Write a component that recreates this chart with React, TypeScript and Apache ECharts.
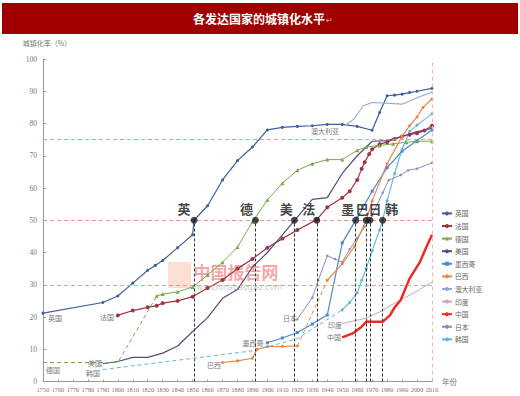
import React, { useEffect, useRef } from "react";
import * as echarts from "echarts";

type Pt = [number, number];

const titleText = "各发达国家的城镇化水平";
const yAxisName = "城镇化率（%）";
const xAxisName = "年份";
const xMin = 1750;
const xMax = 2010;
const xStep = 10;
const yMin = 0;
const yMax = 100;
const yStep = 10;

// Series values [year, urbanisation %]
const uk: Pt[] = [[1750, 21.2], [1790, 24.5], [1800, 26.5], [1810, 30.5], [1820, 34.5], [1825, 36], [1830, 37.5], [1840, 41.5], [1850, 45.5], [1851, 50], [1860, 54.5], [1870, 62.5], [1880, 68.5], [1890, 72.7], [1900, 78], [1910, 78.8], [1920, 79.1], [1930, 79.3], [1940, 79.7], [1950, 79.7], [1960, 79.1], [1970, 77.9], [1975, 83.4], [1980, 88.6], [1985, 88.8], [1990, 89.1], [1995, 89.6], [2000, 90], [2010, 90.9]];
const france: Pt[] = [[1800, 20.5], [1810, 22], [1820, 23], [1826, 23.5], [1830, 24.3], [1840, 25], [1850, 26.3], [1860, 29], [1870, 31.5], [1880, 35], [1890, 38], [1900, 41.5], [1910, 44.3], [1920, 47], [1933, 50.2], [1940, 54], [1950, 57], [1955, 59], [1960, 62.5], [1963, 66], [1965, 68], [1968, 70.5], [1970, 72], [1975, 73.6], [1980, 74.2], [1985, 75.2], [1990, 76], [1995, 76.5], [2000, 77], [2005, 77.8], [2010, 79.3]];
const germanyEarly: Pt[] = [[1750, 5.9], [1800, 5.9], [1826, 26.5]];
const germany: Pt[] = [[1826, 26.5], [1830, 27.1], [1840, 27.8], [1850, 29.3], [1860, 33], [1870, 37], [1880, 41.7], [1890, 49.5], [1900, 56.3], [1910, 61.5], [1920, 65.5], [1930, 67.5], [1940, 68.8], [1950, 68.8], [1960, 71.7], [1966, 72.7], [1975, 73.2], [1984, 73.7], [1993, 74.2], [2000, 74.5], [2010, 74.5]];
const usa: Pt[] = [[1790, 5.5], [1800, 6.2], [1810, 7.5], [1820, 7.5], [1830, 8.8], [1840, 11], [1850, 15.5], [1860, 19.8], [1870, 25.8], [1880, 28.5], [1890, 35.5], [1900, 40], [1910, 45.5], [1920, 51], [1930, 56.5], [1940, 57], [1950, 64.5], [1960, 70], [1970, 74.5], [1980, 74.7], [1990, 76], [2000, 77.5], [2010, 78.5]];
const mexico: Pt[] = [[1900, 12], [1910, 13.5], [1920, 15.2], [1930, 17.8], [1940, 20.6], [1950, 43], [1960, 50.8], [1970, 59], [1980, 66.3], [1990, 71.4], [2000, 74.7], [2010, 78]];
const brazil: Pt[] = [[1870, 5.9], [1880, 6.4], [1890, 7.2], [1893, 10], [1900, 10.8], [1910, 10.9], [1920, 11]];
const brazilGap: Pt[] = [[1920, 11], [1940, 31.4]];
const brazilLate: Pt[] = [[1940, 31.4], [1950, 36.5], [1958, 41.7], [1966, 50], [1970, 56], [1980, 67.5], [1990, 76], [1995, 79.3], [2000, 82], [2004, 85], [2010, 87.6]];
const australia: Pt[] = [[1952, 79.5], [1958, 81.4], [1964, 85.5], [1970, 86.5], [1980, 86.3], [1990, 86], [2000, 88], [2010, 89.8]];
const india: Pt[] = [[1950, 18], [1960, 19], [1966, 19.6], [1970, 20.5], [1977, 22], [1980, 23], [1990, 25.5], [2000, 28], [2010, 30.9]];
const china: Pt[] = [[1950, 13.7], [1957, 14.9], [1963, 17], [1966, 18.5], [1970, 18.5], [1977, 18.5], [1982, 20.6], [1985, 23], [1989, 25.2], [1995, 31.9], [2002, 37.1], [2006, 41.5], [2010, 45.5]];
const japan: Pt[] = [[1920, 19.3], [1930, 26], [1934, 31.4], [1940, 39], [1945, 38], [1950, 37], [1955, 41], [1960, 44.5], [1965, 48], [1968.5, 50], [1970, 51.5], [1977, 58.5], [1981, 62.4], [1989, 64], [1994, 65.5], [2000, 66], [2010, 67.8]];
const koreaEarly: Pt[] = [[1790, 3.7], [1890, 9.5], [1920, 13.3], [1950, 22.2]];
const korea: Pt[] = [[1950, 22.2], [1955, 24.5], [1960, 27.5], [1963, 31.4], [1966, 35], [1970, 40.5], [1975, 47], [1977, 50], [1980, 56], [1985, 64.5], [1990, 72], [1995, 77.5], [2000, 79.5], [2010, 83]];

// Years when each country passed 50 %
const milestoneYears = [1851, 1892, 1918, 1933, 1959, 1966, 1968.5, 1977];
const milestoneLabels = ["英", "德", "美", "法", "墨", "巴", "日", "韩"];
const milestoneLevel = 50;
const referenceLevels = [75, 50, 30];
const endYear = 2010;

const legendNames = ["英国", "法国", "德国", "美国", "墨西哥", "巴西", "澳大利亚", "印度", "中国", "日本", "韩国"];

const CJK = "'Noto Sans CJK SC', 'Noto Sans', sans-serif";
const SERIF = "'Liberation Serif', 'DejaVu Serif', serif";

const colors: Record<string, string> = {
  英国: "#3F5E9E",
  法国: "#A23344",
  德国: "#79A94A",
  美国: "#514C82",
  墨西哥: "#4C8BC9",
  巴西: "#EE8545",
  澳大利亚: "#93A6DA",
  印度: "#CBA6C0",
  中国: "#EE2A24",
  日本: "#8E89BF",
  韩国: "#62B4DE",
};

const labelShiftX: Record<string, number> = { 英: -10, 德: -9, 美: -8, 法: -8, 墨: -8, 巴: -4, 日: 5, 韩: 9 };

function lineSeries(name: string, data: Pt[], opts: { symbol?: string; size?: number; width?: number; dashed?: boolean; z?: number }) {
  const color = colors[name];
  const sym = opts.symbol || "none";
  return {
    type: "line",
    name,
    data,
    z: opts.z || 2,
    symbol: sym,
    symbolSize: opts.size || 3,
    showSymbol: sym !== "none",
    smooth: false,
    itemStyle: { color },
    lineStyle: { color, width: opts.width || 1.1, type: opts.dashed ? [4, 3] : "solid" },
    emphasis: { disabled: true },
  };
}

export default function App() {
  const ref = useRef<HTMLDivElement>(null);

  useEffect(() => {
    document.body.style.margin = "0";
    if (!ref.current) return;
    const chart = echarts.init(ref.current, undefined, { renderer: "svg" });

    const annotations: [string, number, number][] = [
      ["英国", 55, 318],
      ["法国", 107, 317],
      ["德国", 53, 370],
      ["美国", 95, 363],
      ["韩国", 93, 373],
      ["巴西", 214, 365],
      ["墨西哥", 253, 343],
      ["日本", 290, 318],
      ["印度", 335, 325],
      ["中国", 334, 337],
      ["澳大利亚", 325, 131],
    ];

    const option: any = {
      animation: false,
      textStyle: { fontFamily: CJK },
      grid: { left: 43, right: 88, top: 59, bottom: 14.5, containLabel: false },
      xAxis: {
        type: "value",
        min: xMin,
        max: xMax,
        interval: xStep,
        name: xAxisName,
        nameLocation: "end",
        nameGap: 10,
        nameTextStyle: { color: "#777", fontSize: 7.5, fontFamily: CJK, padding: [0, 0, 6, 0] },
        axisLine: { show: true, lineStyle: { color: "#999", width: 1 } },
        axisTick: { show: true, inside: true, length: 2, lineStyle: { color: "#999" } },
        axisLabel: { color: "#777", fontSize: 6.3, fontFamily: SERIF, margin: 5, formatter: (v: number) => String(v) },
        splitLine: { show: false },
      },
      yAxis: {
        type: "value",
        min: yMin,
        max: yMax,
        interval: yStep,
        name: yAxisName,
        nameLocation: "end",
        nameGap: 13,
        nameTextStyle: { color: "#777", fontSize: 7, fontFamily: CJK, align: "center", padding: [0, 0, 0, 8] },
        axisLine: { show: true, lineStyle: { color: "#999", width: 1 } },
        axisTick: { show: true, inside: true, length: 3, lineStyle: { color: "#999" } },
        axisLabel: { color: "#777", fontSize: 7.5, fontFamily: SERIF, margin: 6 },
        splitLine: { show: false },
      },
      legend: {
        data: legendNames,
        orient: "vertical",
        left: 436,
        top: 205,
        itemWidth: 10,
        itemHeight: 5,
        itemGap: 5.8,
        textStyle: { fontSize: 6.8, color: "#666", fontFamily: CJK, padding: [0, 0, 0, -2] },
        selectedMode: false,
      },
      graphic: [
        { type: "rect", shape: { x: 2, y: 3, width: 516, height: 31 }, style: { fill: "#A00000" }, z: 10 },
        {
          type: "text",
          x: 259,
          y: 18.5,
          style: { text: titleText, fill: "#ffffff", fontSize: 12, fontWeight: "bold", fontFamily: CJK, align: "center", verticalAlign: "middle" },
          z: 11,
        },
        { type: "text", x: 326, y: 19, style: { text: "↵", fill: "#d8b0b0", fontSize: 8, fontFamily: CJK, align: "left", verticalAlign: "middle" }, z: 11 },
        { type: "rect", shape: { x: 168, y: 262, width: 23, height: 26 }, style: { fill: "rgba(240,150,110,0.3)" }, z: 0 },
        {
          type: "text",
          x: 236,
          y: 271,
          style: { text: "中国报告网", fill: "rgba(236,80,80,0.5)", fontSize: 17, fontWeight: "bold", fontFamily: CJK, align: "center", verticalAlign: "middle" },
          z: 0,
        },
        {
          type: "text",
          x: 236,
          y: 287,
          style: { text: "www.chinabaogao.com", fill: "rgba(120,120,120,0.45)", fontSize: 8, fontFamily: "'DejaVu Sans', sans-serif", align: "center", verticalAlign: "middle" },
          z: 0,
        },
        ...annotations.map(([t, x, y]) => ({
          type: "text",
          x,
          y,
          style: { text: t, fill: "#777", fontSize: 7, fontFamily: CJK, align: "center", verticalAlign: "middle" },
          z: 5,
        })),
      ],
      series: [
        lineSeries("英国", uk, { symbol: "circle", size: 3, width: 1.2 }),
        lineSeries("法国", france, { symbol: "circle", size: 4, width: 1.2 }),
        lineSeries("德国", germany, { symbol: "triangle", size: 4, width: 1 }),
        lineSeries("美国", usa, { width: 1.2 }),
        lineSeries("墨西哥", mexico, { symbol: "rect", size: 3, width: 1.2 }),
        lineSeries("巴西", brazil, { symbol: "circle", size: 3, width: 1.2 }),
        lineSeries("澳大利亚", australia, { width: 1.1 }),
        lineSeries("印度", india, { width: 1 }),
        lineSeries("中国", china, { width: 2.5, z: 4 }),
        lineSeries("日本", japan, { symbol: "circle", size: 2.5, width: 1 }),
        lineSeries("韩国", korea, { symbol: "circle", size: 3, width: 1.1 }),
        lineSeries("德国", germanyEarly, { dashed: true, width: 1 }),
        lineSeries("巴西", brazilGap, { dashed: true, width: 1 }),
        lineSeries("巴西", brazilLate, { symbol: "circle", size: 3, width: 1.2 }),
        lineSeries("韩国", koreaEarly, { dashed: true, width: 1 }),
        {
          type: "scatter",
          name: "milestones",
          z: 6,
          symbol: "circle",
          symbolSize: 7,
          itemStyle: { color: "#1a1a1a" },
          emphasis: { disabled: true },
          data: milestoneYears.map((yr, i) => ({
            value: [yr, milestoneLevel],
            label: {
              show: true,
              formatter: milestoneLabels[i],
              position: "top",
              distance: 2,
              offset: [labelShiftX[milestoneLabels[i]] || 0, 0],
              color: "#111",
              fontSize: 13,
              fontWeight: "bold",
              fontFamily: CJK,
            },
          })),
          markLine: {
            silent: true,
            symbol: "none",
            label: { show: false },
            emphasis: { disabled: true },
            data: [
              ...milestoneYears.map((yr) => [
                { coord: [yr, 0], lineStyle: { color: "#333", type: [3, 2], width: 1 } },
                { coord: [yr, milestoneLevel] },
              ]),
              ...referenceLevels.map((v) => ({ yAxis: v, lineStyle: { color: "#E58F8F", type: [4, 3], width: 0.9 } })),
              { xAxis: endYear, lineStyle: { color: "#EDB0A8", type: [4, 3], width: 0.9 } },
            ],
          },
        },
      ],
    };

    chart.setOption(option);
    return () => chart.dispose();
  }, []);

  return <div ref={ref} style={{ width: 520, height: 396 }} />;
}
